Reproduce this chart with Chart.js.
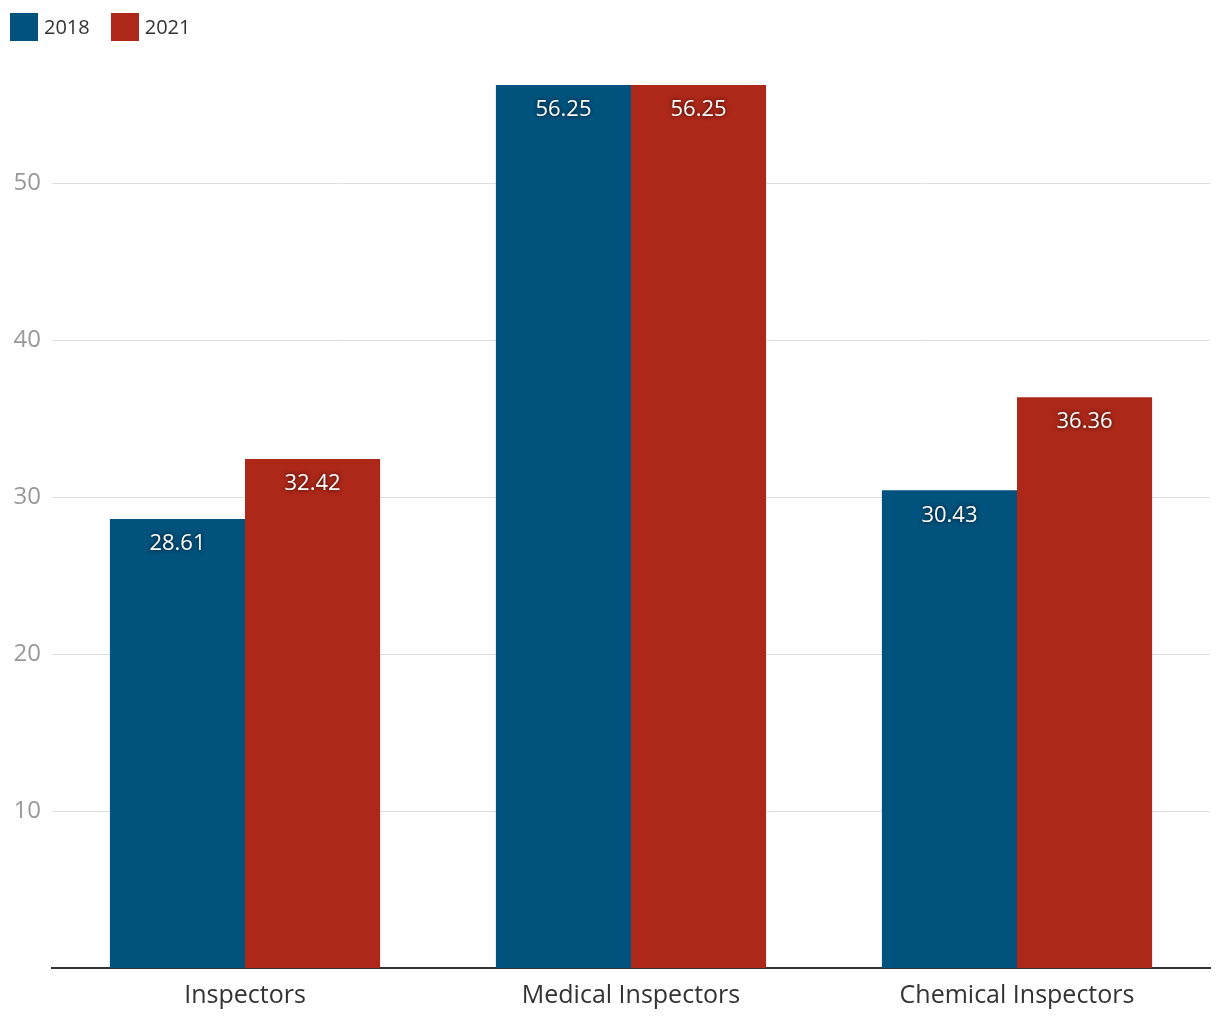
<!DOCTYPE html>
<html>
<head>
<meta charset="utf-8">
<script src="https://cdn.jsdelivr.net/npm/chart.js@4"></script>
<style>
	body { margin: 0; background: #fff; font-family: "Open Sans", sans-serif; }
	#wrap { position: relative; width: 1220px; height: 1020px; }
	#legend { position: absolute; left: 10px; top: 13px; display: flex; font-size: 20px; color: #333; line-height: 28px; }
	.item { display: flex; align-items: center; margin-right: 21px; height: 28px; }
	.box { width: 28px; height: 28px; margin-right: 6px; }
</style>
</head>
<body>
<div id="wrap">
	<canvas id="chart" width="1220" height="1020"></canvas>
	<div id="legend"></div>
</div>
<script>
const categories = ["Inspectors", "Medical Inspectors", "Chemical Inspectors"];
const seriesNames = ["2018", "2021"];
const values2018 = [28.61, 56.25, 30.43];
const values2021 = [32.42, 56.25, 36.36];
const yTicks = [10, 20, 30, 40, 50];
const colors = ["#01527d", "#ad2819"];

// html legend
const legend = document.getElementById("legend");
seriesNames.forEach(function(name, i) {
	legend.innerHTML += '<div class="item"><div class="box" style="background:' + colors[i] + '"></div>' + name + '</div>';
});

// value labels inside the top of each bar
const valueLabels = {
	id: "valueLabels",
	afterDatasetsDraw(chart) {
		const ctx = chart.ctx;
		ctx.save();
		ctx.font = '22px "Open Sans", sans-serif';
		ctx.fillStyle = "#fff";
		ctx.textAlign = "center";
		ctx.textBaseline = "middle";
		ctx.shadowColor = "rgba(0,0,0,0.8)";
		ctx.shadowBlur = 4;
		chart.data.datasets.forEach(function(ds, i) {
			chart.getDatasetMeta(i).data.forEach(function(bar, j) {
				ctx.fillText(ds.data[j].toFixed(2), bar.x, bar.y + 25);
			});
		});
		ctx.restore();
	}
};

const chart = new Chart(document.getElementById("chart").getContext("2d"), {
	type: "bar",
	data: {
		labels: categories,
		datasets: [
			{ label: seriesNames[0], data: values2018, backgroundColor: colors[0] },
			{ label: seriesNames[1], data: values2021, backgroundColor: colors[1] }
		]
	},
	options: {
		responsive: false,
		animation: false,
		datasets: { bar: { categoryPercentage: 0.7, barPercentage: 1 } },
		layout: { padding: { top: 85, right: 10, left: 0, bottom: 0 } },
		plugins: { legend: { display: false }, tooltip: { enabled: false } },
		scales: {
			x: {
				grid: { display: false, drawTicks: false },
				border: { color: "#333", width: 2 },
				ticks: { color: "#333", font: { size: 25, family: '"Open Sans", sans-serif' }, padding: 13 },
				afterFit: function(scale) { scale.height = 52; }
			},
			y: {
				min: 0,
				max: 56.25,
				afterBuildTicks: function(scale) { scale.ticks = yTicks.map(v => ({ value: v })); },
				grid: { color: "#dedede", drawTicks: false },
				border: { display: false },
				ticks: { color: "#999", font: { size: 24, family: '"Open Sans", sans-serif' }, padding: 11 },
				afterFit: function(scale) { scale.width = 52; }
			}
		}
	},
	plugins: [valueLabels]
});
</script>
</body>
</html>
